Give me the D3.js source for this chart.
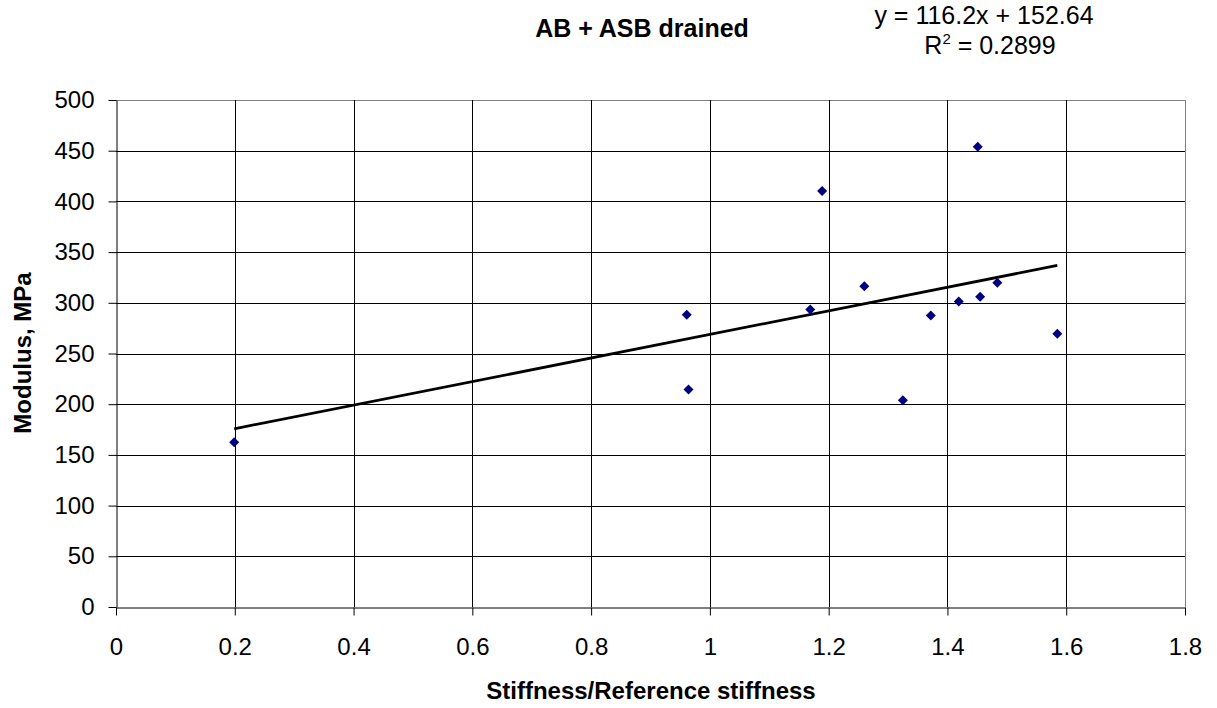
<!DOCTYPE html>
<html>
<head>
<meta charset="utf-8">
<script src="https://cdn.jsdelivr.net/npm/d3@7"></script>
<style>
  body { margin: 0; background: #fff; }
  text { font-family: Arial, "Liberation Sans", sans-serif; fill: #000; }
</style>
</head>
<body>
<div id="chart"></div>
<script>
// ratio of stiffness to reference stiffness vs modulus (MPa)
var stiffRatio = [0.199, 0.961, 0.964, 1.169, 1.189, 1.260, 1.325, 1.372, 1.419, 1.451, 1.455, 1.484, 1.585];
var modulus    = [162.5, 288.2, 214.5, 293.5, 410.2, 316.2, 204.0, 287.5, 301.4, 454.0, 306.0, 319.7, 269.4];
var xTicks = [0, 0.2, 0.4, 0.6, 0.8, 1, 1.2, 1.4, 1.6, 1.8];
var yTicks = [0, 50, 100, 150, 200, 250, 300, 350, 400, 450, 500];
var slope = 116.2, intercept = 152.64, rSquared = 0.2899;

var width = 1217, height = 708;
var plotLeft = 116, plotRight = 1185, plotTop = 100, plotBottom = 607;

var svg = d3.select("#chart").append("svg")
    .attr("width", width)
    .attr("height", height);

var x = d3.scaleLinear().domain([0, 1.8]).range([plotLeft, plotRight]);
var y = d3.scaleLinear().domain([0, 500]).range([plotBottom, plotTop]);

function px(v) { return Math.round(v) + 0.5; }

// grid
svg.append("g").selectAll("line")
  .data(yTicks.slice(1))
  .enter().append("line")
    .attr("x1", plotLeft).attr("x2", plotRight)
    .attr("y1", function(d) { return px(y(d)); })
    .attr("y2", function(d) { return px(y(d)); })
    .attr("stroke", function(d) { return d == 500 ? "#808080" : "#000"; })
    .attr("stroke-width", 1);

svg.append("g").selectAll("line")
  .data(xTicks.slice(1))
  .enter().append("line")
    .attr("y1", plotTop).attr("y2", plotBottom)
    .attr("x1", function(d) { return px(x(d)); })
    .attr("x2", function(d) { return px(x(d)); })
    .attr("stroke", function(d) { return d == 1.8 ? "#808080" : "#000"; })
    .attr("stroke-width", 1);

// axes
var xAxis = d3.axisBottom(x).tickValues(xTicks).tickSizeInner(8).tickSizeOuter(0).tickPadding(22)
    .tickFormat(function(d) { return d; });
var yAxis = d3.axisLeft(y).tickValues(yTicks).tickSizeInner(8).tickSizeOuter(0).tickPadding(14);

var gx = svg.append("g")
    .attr("transform", "translate(0," + px(plotBottom) + ")")
    .call(xAxis);
var gy = svg.append("g")
    .attr("transform", "translate(" + px(plotLeft) + ",0)")
    .call(yAxis);

[gx, gy].forEach(function(g) {
  g.select(".domain").attr("stroke", "#000");
  g.selectAll(".tick line").attr("stroke", "#000");
  g.selectAll(".tick text")
    .style("font-family", "Arial, 'Liberation Sans', sans-serif")
    .style("font-size", "24px")
    .attr("fill", "#000");
});
gx.selectAll(".tick text").attr("dy", "0.71em");

// trendline
var xMin = d3.min(stiffRatio), xMax = d3.max(stiffRatio);
svg.append("line")
    .attr("x1", x(xMin)).attr("y1", y(slope * xMin + intercept))
    .attr("x2", x(xMax)).attr("y2", y(slope * xMax + intercept))
    .attr("stroke", "#000")
    .attr("stroke-width", 2.8);

// points
var pts = stiffRatio.map(function(d, i) { return {x: d, y: modulus[i]}; });
svg.append("g").selectAll("path")
  .data(pts)
  .enter().append("path")
    .attr("d", "M0,-5L5,0L0,5L-5,0Z")
    .attr("transform", function(d) { return "translate(" + x(d.x) + "," + y(d.y) + ")"; })
    .attr("fill", "#000080");

// titles
svg.append("text")
    .attr("x", 642).attr("y", 37)
    .attr("text-anchor", "middle")
    .style("font-size", "25px").style("font-weight", "bold")
    .text("AB + ASB drained");

svg.append("text")
    .attr("x", 984).attr("y", 24)
    .attr("text-anchor", "middle")
    .style("font-size", "25px")
    .text("y = " + slope + "x + " + intercept);

var r2 = svg.append("text")
    .attr("x", 990).attr("y", 54)
    .attr("text-anchor", "middle")
    .style("font-size", "25px");
r2.append("tspan").text("R");
r2.append("tspan").attr("dy", -10).style("font-size", "15px").text("2");
r2.append("tspan").attr("dy", 10).text(" = " + rSquared);

svg.append("text")
    .attr("x", 651).attr("y", 699)
    .attr("text-anchor", "middle")
    .style("font-size", "24px").style("font-weight", "bold")
    .text("Stiffness/Reference stiffness");

svg.append("text")
    .attr("transform", "translate(31,353) rotate(-90)")
    .attr("text-anchor", "middle")
    .style("font-size", "24px").style("font-weight", "bold")
    .text("Modulus, MPa");
</script>
</body>
</html>
